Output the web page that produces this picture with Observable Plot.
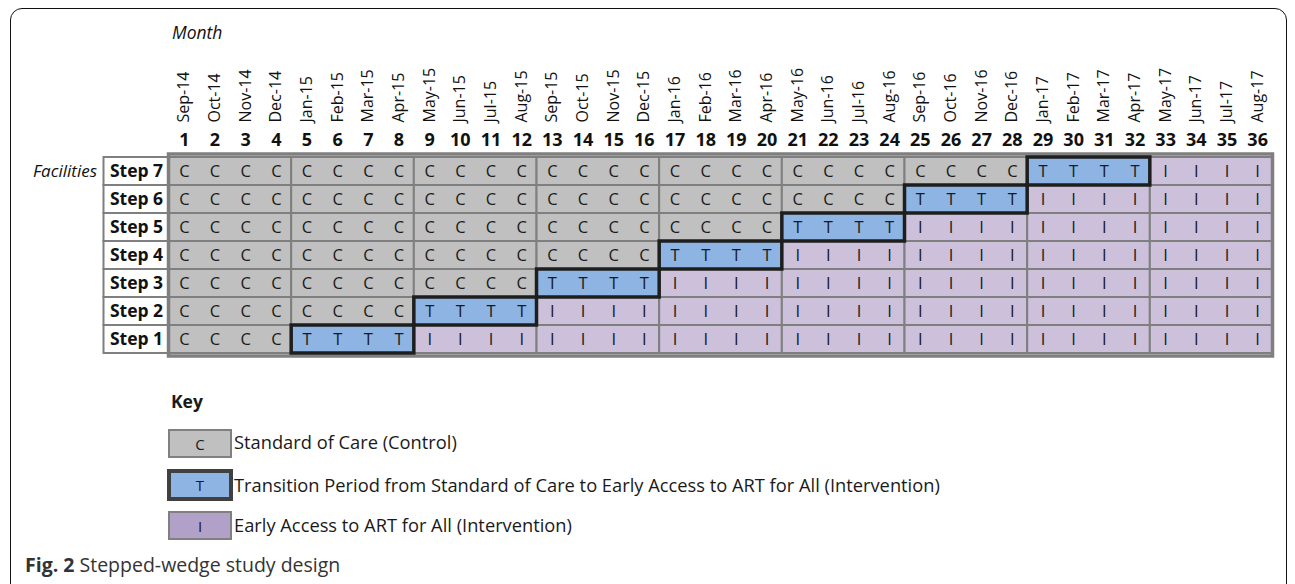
<!DOCTYPE html>
<html>
<head>
<meta charset="utf-8">
<script src="https://cdn.jsdelivr.net/npm/d3@7"></script>
<script src="https://cdn.jsdelivr.net/npm/@observablehq/plot@0.6"></script>
<style>
  html, body { margin: 0; padding: 0; background: #fff; }
  #page { position: relative; width: 1295px; height: 584px; overflow: hidden; font-family: "Open Sans", sans-serif; color: #1a1a1a; }
  #box { position: absolute; left: 10px; top: 8px; width: 1277px; height: 590px; border: 1.5px solid #111; border-radius: 12px; box-sizing: border-box; }
  #chart { position: absolute; left: 0; top: 0; }
  .key-title { position: absolute; left: 171px; top: 388px; font-weight: bold; font-size: 17.5px; line-height: 26px; }
  .sw { position: absolute; box-sizing: border-box; display: flex; align-items: center; justify-content: center; font-size: 15px; }
  .lab { position: absolute; left: 234px; font-size: 18.3px; line-height: 26px; }
  #caption { position: absolute; left: 25px; top: 551px; font-size: 19.5px; line-height: 28px; color: #333; }
</style>
</head>
<body>
<div id="page">
  <div id="box"></div>
  <div id="chart"></div>
  <div id="legend"></div>
  <div id="caption"><b>Fig. 2</b> Stepped-wedge study design</div>
</div>
<script>
// ---- data ----
const monthLabels = ["Sep-14","Oct-14","Nov-14","Dec-14","Jan-15","Feb-15","Mar-15","Apr-15","May-15","Jun-15","Jul-15","Aug-15",
  "Sep-15","Oct-15","Nov-15","Dec-15","Jan-16","Feb-16","Mar-16","Apr-16","May-16","Jun-16","Jul-16","Aug-16",
  "Sep-16","Oct-16","Nov-16","Dec-16","Jan-17","Feb-17","Mar-17","Apr-17","May-17","Jun-17","Jul-17","Aug-17"];
const monthNumbers = [1,2,3,4,5,6,7,8,9,10,11,12,13,14,15,16,17,18,19,20,21,22,23,24,25,26,27,28,29,30,31,32,33,34,35,36];
const steps = ["Step 7","Step 6","Step 5","Step 4","Step 3","Step 2","Step 1"];
// first and last month of the transition (T) period for each step
const transitionFirst = {"Step 1": 5, "Step 2": 9, "Step 3": 13, "Step 4": 17, "Step 5": 21, "Step 6": 25, "Step 7": 29};
const transitionLast  = {"Step 1": 8, "Step 2": 12, "Step 3": 16, "Step 4": 20, "Step 5": 24, "Step 6": 28, "Step 7": 32};
const blockSize = 4; // months grouped in blocks of 4 in the grid
const phases = ["C", "T", "I"];
const phaseColors = ["#c0c0c0", "#8db4e2", "#ccc0da"];
const keyColors = ["#c0c0c0", "#8db4e2", "#b1a0c7"];
const keyLabels = ["Standard of Care (Control)",
  "Transition Period from Standard of Care to Early Access to ART for All (Intervention)",
  "Early Access to ART for All (Intervention)"];

// ---- derived tables ----
function phaseOf(step, m) {
  if (m < transitionFirst[step]) return "C";
  if (m <= transitionLast[step]) return "T";
  return "I";
}
const cells = [];
for (const s of steps) for (const m of monthNumbers) cells.push({step: s, month: m, phase: phaseOf(s, m)});
const blocks = [];
for (const s of steps) {
  for (let i = 0; i < monthNumbers.length; i += blockSize) {
    const first = monthNumbers[i], last = monthNumbers[i + blockSize - 1];
    blocks.push({step: s, first, last, phase: phaseOf(s, first)});
  }
}
const labelSpan = 2.12; // width of the step-label column in month units

const chart = Plot.plot({
  width: 1295,
  height: 362,
  marginLeft: 103.5,
  marginRight: 22.5,
  marginTop: 154,
  marginBottom: 6,
  x: {type: "linear", domain: [-labelSpan, monthNumbers.length], axis: null},
  y: {type: "band", domain: steps, padding: 0, axis: null},
  color: {domain: phases, range: phaseColors},
  style: {fontFamily: "Open Sans", fontSize: "16px", color: "#1a1a1a"},
  marks: [
    // step label boxes
    Plot.barX(steps, {x1: -labelSpan, x2: 0, y: d => d, fill: "white", stroke: "#7f7f7f", strokeWidth: 2}),
    // 4-month blocks
    Plot.barX(blocks, {x1: d => d.first - 1, x2: d => d.last, y: "step", fill: "phase", stroke: "#7f7f7f", strokeWidth: 2}),
    // outer grid border
    Plot.barX([0], {x1: 0, x2: monthNumbers.length, fill: "none", stroke: "#7f7f7f", strokeWidth: 3.5}),
    // transition outlines
    Plot.barX(steps, {x1: d => transitionFirst[d] - 1, x2: d => transitionLast[d], y: d => d, fill: "none", stroke: "#1e1e1e", strokeWidth: 3.5}),
    // cell letters
    Plot.text(cells, {x: d => d.month - 0.5, y: "step", text: "phase", fontSize: 16.5, fill: "#1a1a1a"}),
    // step labels
    Plot.text(steps, {x: -labelSpan / 2, y: d => d, text: d => d, fontWeight: "bold", fontSize: 17.5, fill: "#111"}),
    // facilities label
    Plot.text(["Facilities"], {x: -labelSpan, y: () => "Step 7", text: d => d, textAnchor: "end", dx: -7, fontStyle: "italic", fontSize: 17, fill: "#111"}),
    // month names
    Plot.text(monthNumbers, {x: d => d - 0.5, text: d => monthLabels[d - 1], frameAnchor: "top", dy: -32, rotate: -90, textAnchor: "start", lineAnchor: "middle", fontSize: 16, fill: "#111"}),
    // month numbers
    Plot.text(monthNumbers, {x: d => d - 0.5, text: d => String(d), frameAnchor: "top", dy: -14, lineAnchor: "middle", fontWeight: "bold", fontSize: 18, fill: "#111"}),
    // "Month" title
    Plot.text(["Month"], {x: 0, text: d => d, frameAnchor: "top", dy: -128, textAnchor: "start", dx: 3, fontStyle: "italic", fontSize: 17.5, fill: "#111"})
  ]
});
document.getElementById("chart").appendChild(chart);

// ---- key ----
const legend = document.getElementById("legend");
const keyTitle = document.createElement("div");
keyTitle.className = "key-title";
keyTitle.textContent = "Key";
legend.appendChild(keyTitle);
const swatchTops = [429, 469, 511];
const labelTops = [429, 472, 512];
phases.forEach((p, i) => {
  const sw = document.createElement("div");
  sw.className = "sw";
  sw.textContent = p;
  sw.style.background = keyColors[i];
  if (p === "T") {
    sw.style.left = "167px"; sw.style.top = swatchTops[i] + "px";
    sw.style.width = "66px"; sw.style.height = "32px";
    sw.style.border = "4px solid #404040";
  } else {
    sw.style.left = "168px"; sw.style.top = swatchTops[i] + "px";
    sw.style.width = "64px"; sw.style.height = "29px";
    sw.style.border = "2px solid #808080";
  }
  legend.appendChild(sw);
  const lab = document.createElement("div");
  lab.className = "lab";
  lab.style.top = labelTops[i] + "px";
  lab.textContent = keyLabels[i];
  legend.appendChild(lab);
});
</script>
</body>
</html>
